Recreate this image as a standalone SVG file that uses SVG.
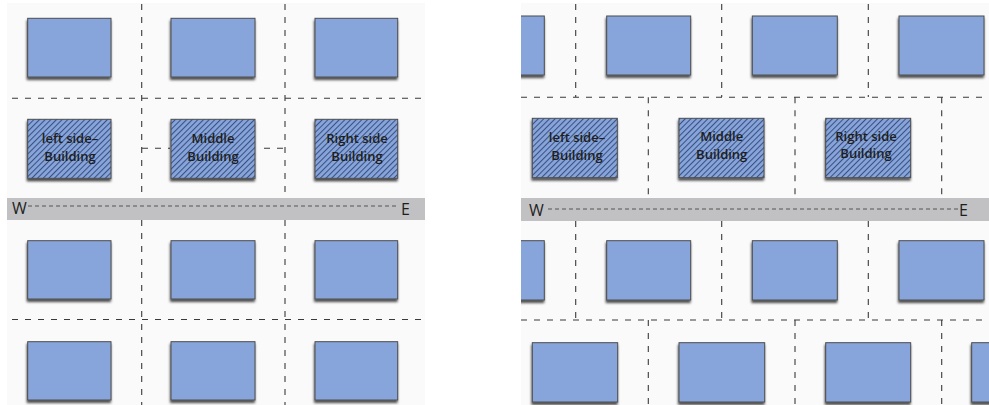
<svg xmlns="http://www.w3.org/2000/svg" width="989" height="405" viewBox="0 0 989 405">
<style>
.bg{fill:#fafafa}
.road{fill:#c1c1c3}
.b{fill:#87a5db;stroke:#4d4d4d;stroke-width:1;filter:url(#sh)}
.h{fill:url(#hatch);stroke:#4d4d4d;stroke-width:1;filter:url(#sh)}
.g{stroke:#3a3a3a;stroke-width:1.1;stroke-dasharray:6 7;fill:none}
.rd{stroke:#555;stroke-width:1;stroke-dasharray:4 3;fill:none}
.t{font-family:"Open Sans","Liberation Sans",sans-serif;font-size:13px;font-weight:600;fill:#1e1e1e;text-anchor:middle}
.c{font-family:"Open Sans","Liberation Sans",sans-serif;font-size:16px;fill:#1e1e1e}
</style>
<defs>
<filter id="sh" x="-10%" y="-10%" width="125%" height="130%">
<feDropShadow dx="-0.5" dy="2.5" stdDeviation="1.3" flood-color="#000" flood-opacity="0.7"/>
</filter>
<pattern id="hatch" width="4" height="4" patternUnits="userSpaceOnUse" patternTransform="rotate(45)">
<rect width="4" height="4" fill="#87a5db"/>
<line x1="0.5" y1="0" x2="0.5" y2="4" stroke="#3a5080" stroke-width="1.1"/>
</pattern>
</defs>
<rect width="989" height="405" fill="#fff"/>
<rect class="bg" x="7" y="3" width="418" height="402"/>
<rect class="bg" x="521" y="3" width="468" height="402"/>
<rect class="road" x="7" y="198" width="418" height="22"/>
<rect class="road" x="521" y="198" width="468" height="23"/>

<g id="connectors">
<line class="g" x1="141.7" y1="4" x2="141.7" y2="198"/>
<line class="g" x1="141.7" y1="220" x2="141.7" y2="405"/>
<line class="g" x1="285" y1="4" x2="285" y2="198"/>
<line class="g" x1="285" y1="220" x2="285" y2="405"/>
<line class="g" x1="12" y1="98.3" x2="425" y2="98.3"/>
<line class="g" x1="12" y1="319.5" x2="425" y2="319.5"/>
<line class="g" x1="142" y1="148.3" x2="170" y2="148.3"/>
<line class="g" x1="264" y1="148.3" x2="285" y2="148.3"/>
<line class="rd" x1="28" y1="206" x2="398" y2="206"/>
<line class="g" x1="575.7" y1="4" x2="575.7" y2="97"/>
<line class="g" x1="721.7" y1="4" x2="721.7" y2="97"/>
<line class="g" x1="868.3" y1="4" x2="868.3" y2="97"/>
<line class="g" x1="521" y1="97.3" x2="985" y2="97.3"/>
<line class="g" x1="648.3" y1="97.3" x2="648.3" y2="198"/>
<line class="g" x1="795" y1="97.3" x2="795" y2="198"/>
<line class="g" x1="941.7" y1="97.3" x2="941.7" y2="198"/>
<line class="g" x1="575.7" y1="221" x2="575.7" y2="320"/>
<line class="g" x1="721.7" y1="221" x2="721.7" y2="320"/>
<line class="g" x1="868.3" y1="221" x2="868.3" y2="320"/>
<line class="g" x1="521" y1="320" x2="985" y2="320"/>
<line class="g" x1="648.3" y1="320" x2="648.3" y2="405"/>
<line class="g" x1="795" y1="320" x2="795" y2="405"/>
<line class="g" x1="941.7" y1="320" x2="941.7" y2="405"/>
<line class="rd" x1="548" y1="209" x2="958" y2="209"/>
</g>

<g id="L-r1-1"><rect class="b" x="27.7" y="18.3" width="83.3" height="58.7"/></g>
<g id="L-r1-2"><rect class="b" x="171" y="18.3" width="84" height="58.7"/></g>
<g id="L-r1-3"><rect class="b" x="315" y="18.3" width="82.7" height="58.7"/></g>
<g id="L-left-building"><rect class="h" x="27.7" y="119.3" width="83.3" height="59"/><text class="t" x="70" y="143">left side–</text><text class="t" x="70" y="160.5">Building</text></g>
<g id="L-middle-building"><rect class="h" x="171" y="119.3" width="84" height="59"/><text class="t" x="213" y="143">Middle</text><text class="t" x="213" y="160.5">Building</text></g>
<g id="L-right-building"><rect class="h" x="315" y="119.3" width="82.7" height="59"/><text class="t" x="357" y="143">Right side</text><text class="t" x="357" y="160.5">Building</text></g>
<g id="L-road"><text class="c" x="12" y="214">W</text><text class="c" x="401" y="215">E</text></g>
<g id="L-r3-1"><rect class="b" x="27.7" y="240.7" width="83.3" height="58.3"/></g>
<g id="L-r3-2"><rect class="b" x="171" y="240.7" width="84" height="58.3"/></g>
<g id="L-r3-3"><rect class="b" x="315" y="240.7" width="82.7" height="58.3"/></g>
<g id="L-r4-1"><rect class="b" x="27.7" y="341.7" width="83.3" height="58.3"/></g>
<g id="L-r4-2"><rect class="b" x="171" y="341.7" width="84" height="58.3"/></g>
<g id="L-r4-3"><rect class="b" x="315" y="341.7" width="82.7" height="58.3"/></g>

<g id="R-r1-0"><rect class="b" x="510" y="16" width="34.3" height="59"/></g>
<g id="R-r1-1"><rect class="b" x="606.7" y="16" width="84" height="59"/></g>
<g id="R-r1-2"><rect class="b" x="752.3" y="16" width="85" height="59"/></g>
<g id="R-r1-3"><rect class="b" x="899" y="16" width="85" height="59"/></g>
<g id="R-left-building"><rect class="h" x="532.3" y="118.3" width="85" height="59.4"/><text class="t" x="577" y="142">left side–</text><text class="t" x="577" y="160">Building</text></g>
<g id="R-middle-building"><rect class="h" x="679" y="118.3" width="85" height="59.4"/><text class="t" x="721.7" y="141">Middle</text><text class="t" x="721.7" y="159">Building</text></g>
<g id="R-right-building"><rect class="h" x="825.7" y="118.3" width="85" height="59.4"/><text class="t" x="866" y="141">Right side</text><text class="t" x="866" y="158">Building</text></g>
<g id="R-road"><text class="c" x="529" y="216">W</text><text class="c" x="959" y="216">E</text></g>
<g id="R-r3-0"><rect class="b" x="510" y="240.7" width="34.3" height="59.3"/></g>
<g id="R-r3-1"><rect class="b" x="606.7" y="240.7" width="84" height="59.3"/></g>
<g id="R-r3-2"><rect class="b" x="752.3" y="240.7" width="85" height="59.3"/></g>
<g id="R-r3-3"><rect class="b" x="899" y="240.7" width="85" height="59.3"/></g>
<g id="R-r4-1"><rect class="b" x="532.3" y="342.7" width="85.4" height="59.3"/></g>
<g id="R-r4-2"><rect class="b" x="679" y="342.7" width="85.7" height="59.3"/></g>
<g id="R-r4-3"><rect class="b" x="825.7" y="342.7" width="85" height="59.3"/></g>
<g id="R-r4-4"><rect class="b" x="971.7" y="342.7" width="30" height="59.3"/></g>
<rect x="500" y="0" width="21" height="405" fill="#fff"/>
</svg>
